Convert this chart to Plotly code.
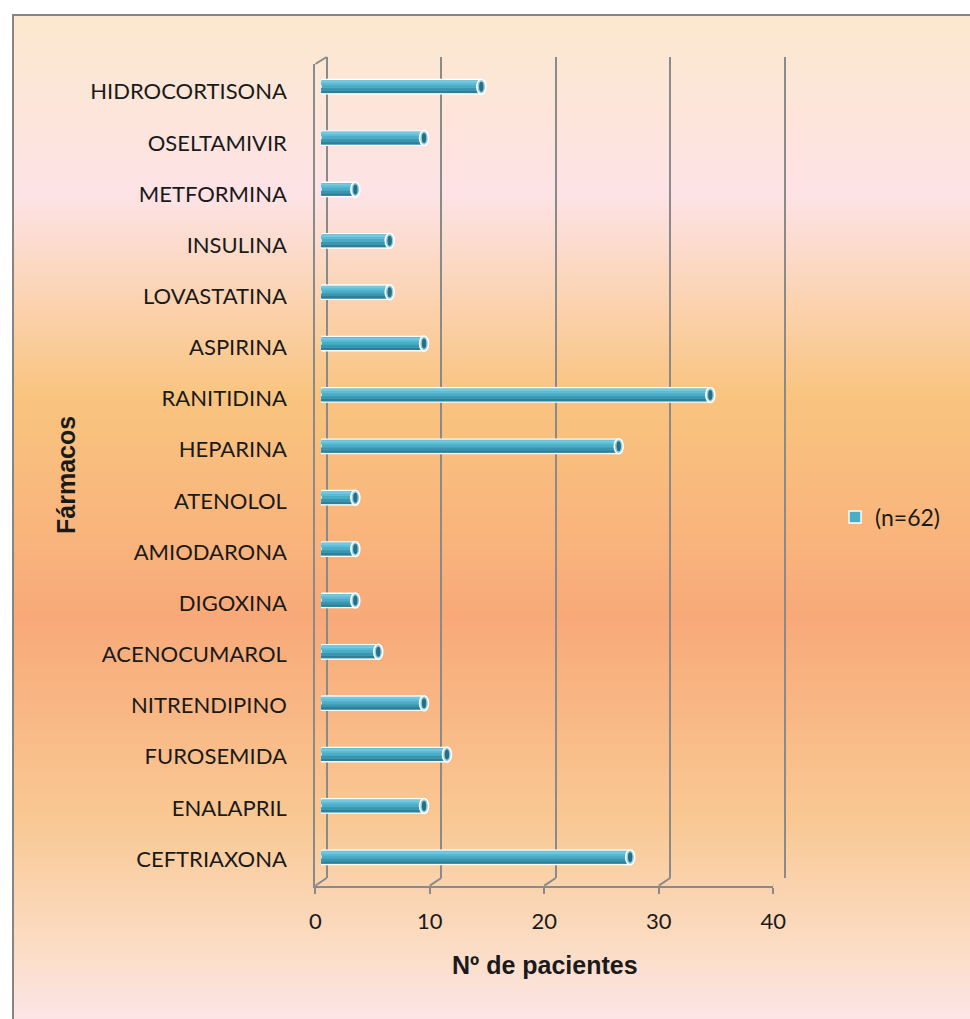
import plotly.graph_objects as go

# ---- data -------------------------------------------------------------
farmacos = ["HIDROCORTISONA", "OSELTAMIVIR", "METFORMINA", "INSULINA",
            "LOVASTATINA", "ASPIRINA", "RANITIDINA", "HEPARINA", "ATENOLOL",
            "AMIODARONA", "DIGOXINA", "ACENOCUMAROL", "NITRENDIPINO",
            "FUROSEMIDA", "ENALAPRIL", "CEFTRIAXONA"]
pacientes = [14, 9, 3, 6, 6, 9, 34, 26, 3, 3, 3, 5, 9, 11, 9, 27]
x_ticks = [0, 10, 20, 30, 40]
serie = "(n=62)"
titulo_y = "Fármacos"
titulo_x = "Nº de pacientes"

# horizontal bars are stacked bottom-to-top
cats = farmacos[::-1]
vals = pacientes[::-1]

# ---- geometry helpers (pixels -> paper) --------------------------------
W, H = 970, 1019


def fx(px):
    return px / W


def fy(py):
    return 1 - py / H


GRID = "#8A8A8A"
TXT = "#1A1A1A"
LABEL_FONT = "Lato"
TITLE_FONT = "Liberation Sans"
DEPTH = 11.4  # pixel offset between front and back walls

fig = go.Figure()

# ---- gradient backdrop of the chart area -------------------------------
fondo = [
    [0.00, "#FCE8CE"],
    [0.18, "#FDE3E6"],
    [0.38, "#F9C47F"],
    [0.52, "#F9B47C"],
    [0.60, "#F8A979"],
    [0.80, "#F9C893"],
    [0.92, "#FBDBC1"],
    [1.00, "#FDE5E7"],
]
fig.add_trace(go.Heatmap(
    z=[[0, 0], [1, 1]], x=[0, 1], y=[0, 1],
    colorscale=fondo, zmin=0, zmax=1, zsmooth="best",
    showscale=False, hoverinfo="skip", xaxis="x", yaxis="y"))

# ---- back wall (gridlines) ---------------------------------------------
fig.add_trace(go.Scatter(x=[0], y=[0], mode="markers", marker=dict(opacity=0),
                         hoverinfo="skip", showlegend=False,
                         xaxis="x2", yaxis="y2"))

# ---- front axes (labels) -----------------------------------------------
fig.add_trace(go.Scatter(x=vals, y=cats, mode="markers",
                         marker=dict(opacity=0), hoverinfo="skip",
                         showlegend=False, xaxis="x3", yaxis="y3"))

# ---- cylinders ---------------------------------------------------------
bar_layers = [
    # (offset, width, colour, outline, legend)
    (-0.14, 0.28, "#4BACC6", 1.4, True),
    (-0.125, 0.05, "#2E7F97", 0, False),
    (-0.075, 0.05, "#3A95AF", 0, False),
    (0.035, 0.05, "#5CBCD6", 0, False),
    (0.075, 0.045, "#74C8DF", 0, False),
]
for off, wd, col, lw, leg in bar_layers:
    fig.add_trace(go.Bar(
        x=vals, y=cats, orientation="h", base=0,
        width=wd, offset=off,
        marker=dict(color=col, line=dict(color="white", width=lw)),
        name=serie, showlegend=leg, hoverinfo="skip",
        xaxis="x4", yaxis="y4"))

shapes = []
# elliptical end caps of the cylinders
for c, v in zip(cats, vals):
    shapes.append(dict(type="circle", xref="x4", yref="y4",
                       xsizemode="pixel", ysizemode="pixel",
                       xanchor=v, yanchor=c, x0=-4.5, x1=4.5, y0=-7.5, y1=7.5,
                       fillcolor="#8FD0E2", line=dict(color="white", width=1.5),
                       layer="above"))
    shapes.append(dict(type="circle", xref="x4", yref="y4",
                       xsizemode="pixel", ysizemode="pixel",
                       xanchor=v, yanchor=c, x0=-2.2, x1=2.2, y0=-5, y1=5,
                       fillcolor="#2B6E81", line=dict(width=0),
                       layer="above"))

# floor edges joining front ticks with back gridlines
for t in x_ticks:
    shapes.append(dict(type="line", xref="x3", yref="paper",
                       xsizemode="pixel", xanchor=t, x0=0, x1=DEPTH,
                       y0=fy(885.7), y1=fy(878),
                       line=dict(color=GRID, width=2)))
# top edge of the side wall
shapes.append(dict(type="line", xref="x3", yref="paper",
                   xsizemode="pixel", xanchor=0, x0=0, x1=DEPTH,
                   y0=fy(64), y1=fy(57), line=dict(color=GRID, width=2)))
# outer frame
shapes.append(dict(type="rect", xref="paper", yref="paper",
                   x0=fx(13), x1=fx(990), y0=fy(1040), y1=fy(15),
                   line=dict(color="#858585", width=2), layer="above"))

hidden = dict(visible=False, showgrid=False, zeroline=False)

fig.update_layout(
    width=W, height=H,
    margin=dict(l=0, r=0, t=0, b=0, autoexpand=False),
    paper_bgcolor="white",
    plot_bgcolor="rgba(0,0,0,0)",
    barmode="overlay",
    showlegend=True,
    shapes=shapes,
    xaxis=dict(domain=[fx(13), 1], range=[0, 1], anchor="y", **hidden),
    yaxis=dict(domain=[0, fy(15)], range=[1, 0], anchor="x", **hidden),
    xaxis2=dict(domain=[fx(326.7 - 0.2 * 11.45), fx(784.7 + 0.2 * 11.45)],
                range=[-0.2, 40.2], anchor="y2", tickvals=x_ticks,
                showgrid=True, gridcolor=GRID, gridwidth=2,
                showticklabels=False, ticks="", showline=False,
                zeroline=False),
    yaxis2=dict(domain=[fy(878), fy(57)], range=[0, 1], anchor="x2",
                **hidden),
    xaxis3=dict(domain=[fx(315.3), fx(773.3)], range=[0, 40], anchor="y3",
                tickvals=x_ticks, showgrid=False, zeroline=False,
                showline=True, linecolor=GRID, linewidth=2,
                ticks="outside", ticklen=6, tickwidth=2, tickcolor=GRID,
                tickfont=dict(family=LABEL_FONT, size=22, color=TXT),
                ticklabelstandoff=9, automargin=False),
    yaxis3=dict(domain=[fy(885.7), fy(64)], range=[-0.522, 15.542],
                anchor="x3", type="category", categoryarray=cats,
                showgrid=False, zeroline=False,
                showline=True, linecolor=GRID, linewidth=2, ticks="",
                tickfont=dict(family=LABEL_FONT, size=22, color=TXT),
                ticklabelstandoff=22, automargin=False),
    xaxis4=dict(domain=[fx(321), fx(779)], range=[0, 40], anchor="y4",
                **hidden),
    yaxis4=dict(domain=[fy(883), fy(61)], range=[-0.5, 15.5], anchor="x4",
                type="category", categoryarray=cats, **hidden),
    legend=dict(x=fx(835), y=fy(517), xanchor="left", yanchor="middle",
                bgcolor="rgba(0,0,0,0)",
                font=dict(family=LABEL_FONT, size=23, color=TXT)),
    annotations=[
        dict(text=f"<b>{titulo_x}</b>", xref="paper", yref="paper",
             x=fx(544.7), y=fy(965), xanchor="center", yanchor="middle",
             showarrow=False,
             font=dict(family=TITLE_FONT, size=25, color=TXT)),
        dict(text=f"<b>{titulo_y}</b>", xref="paper", yref="paper",
             x=fx(66), y=fy(475), xanchor="center", yanchor="middle",
             textangle=-90, showarrow=False,
             font=dict(family=TITLE_FONT, size=25, color=TXT)),
    ],
)

fig.write_html("out.html")
